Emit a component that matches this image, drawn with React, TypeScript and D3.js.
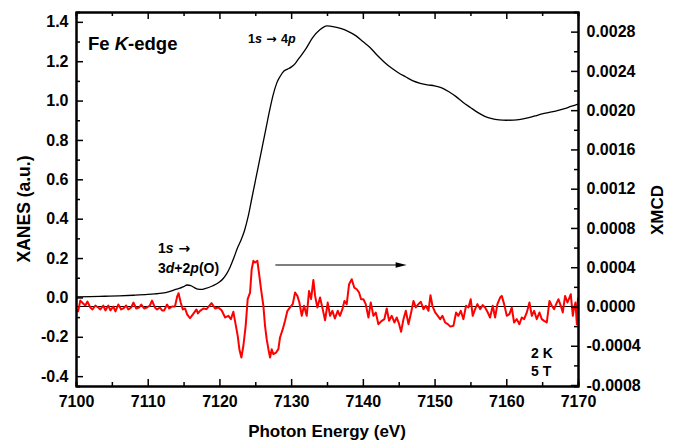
import React, { useEffect, useRef } from 'react';
import * as d3 from 'd3';

const xTicks = [7100, 7110, 7120, 7130, 7140, 7150, 7160, 7170];
const xanesTicks = [-0.4, -0.2, 0, 0.2, 0.4, 0.6, 0.8, 1.0, 1.2, 1.4];
const xmcdTicks = [-0.0008, -0.0004, 0, 0.0004, 0.0008, 0.0012, 0.0016, 0.002, 0.0024, 0.0028];

// XANES (a.u.) vs photon energy (eV)
const xanesEnergy = [
  7100, 7102, 7104, 7106, 7108, 7110, 7111, 7112, 7113, 7114, 7114.5, 7115, 7115.5, 7116, 7116.5,
  7117, 7117.5, 7118, 7119, 7120, 7120.5, 7121, 7121.5, 7122, 7122.5, 7123, 7123.5, 7124, 7124.5,
  7125, 7125.5, 7126, 7126.5, 7127, 7127.5, 7128, 7128.5, 7129, 7129.5, 7130, 7130.5, 7131, 7132,
  7133, 7134, 7135, 7136, 7137, 7138, 7139, 7140, 7141, 7142, 7143, 7144, 7145, 7146, 7147, 7148,
  7149, 7150, 7151, 7152, 7153, 7154, 7155, 7156, 7157, 7158, 7159, 7160, 7161, 7162, 7163, 7164,
  7165, 7166, 7167, 7168, 7169, 7170,
];
const xanesValue = [
  0.003, 0.004, 0.006, 0.008, 0.011, 0.015, 0.018, 0.022, 0.03, 0.042, 0.047, 0.055, 0.063, 0.06, 0.05,
  0.042, 0.041, 0.045, 0.058, 0.078, 0.095, 0.12, 0.155, 0.2, 0.25, 0.29, 0.34, 0.41, 0.5,
  0.59, 0.68, 0.77, 0.86, 0.95, 1.03, 1.09, 1.125, 1.15, 1.16, 1.17, 1.185, 1.21, 1.26,
  1.32, 1.36, 1.38, 1.375, 1.365, 1.35, 1.33, 1.3, 1.27, 1.23, 1.195, 1.165, 1.14, 1.12, 1.1, 1.088,
  1.08, 1.075, 1.065, 1.045, 1.02, 0.99, 0.965, 0.94, 0.92, 0.908, 0.902, 0.9, 0.901, 0.905, 0.912, 0.922,
  0.932, 0.94, 0.948, 0.958, 0.97, 0.982,
];

// XMCD, [energy (eV), value in units of 1e-4]
const xmcd: [number, number][] = [
  [7100.0, -0.3], [7100.3, -0.5], [7100.6, 0.6], [7101.0, 0.3], [7101.3, 0.1], [7101.6, 0.5],
  [7102.0, -0.1], [7102.3, -0.3], [7102.7, 0.1], [7103.1, -0.1], [7103.4, -0.3], [7103.8, 0.1],
  [7104.1, -0.4], [7104.5, 0.1], [7104.8, -0.4], [7105.2, 0.0], [7105.5, -0.5], [7105.9, 0.2],
  [7106.3, -0.3], [7106.6, -0.2], [7107.0, 0.1], [7107.3, -0.3], [7107.7, -0.1], [7108.0, 0.4],
  [7108.4, -0.2], [7108.8, -0.1], [7109.1, 0.2], [7109.5, -0.2], [7109.9, -0.1], [7110.3, 0.1],
  [7110.6, 0.6], [7111.0, -0.1], [7111.3, -0.3], [7111.7, -0.1], [7112.0, -0.4], [7112.3, -0.4],
  [7112.7, 0.2], [7113.0, -0.2], [7113.4, 0.0], [7113.8, 0.0], [7114.1, 1.0], [7114.3, 1.35],
  [7114.6, 0.4], [7114.9, -0.3], [7115.2, -0.2], [7115.5, -0.8], [7115.9, -1.2], [7116.2, -0.9],
  [7116.5, -0.6], [7116.8, -0.3], [7117.0, -0.7], [7117.3, -0.45], [7117.76, -0.2], [7118.2, -0.27],
  [7118.9, 0.34], [7119.4, -0.2], [7119.85, -0.1], [7120.3, -0.38], [7120.8, -1.12], [7121.25, -0.95],
  [7121.6, -1.29], [7121.94, -0.54], [7122.17, -1.46], [7122.55, -2.99], [7122.78, -4.35], [7123.06, -5.2],
  [7123.34, -4.0], [7123.66, -1.97], [7123.94, 0.75], [7124.27, 1.42], [7124.5, 3.8], [7124.73, 4.65],
  [7124.96, 4.48], [7125.29, 4.65], [7125.57, 3.12], [7125.8, 1.76], [7126.13, 0.07], [7126.36, -1.97],
  [7126.59, -3.33], [7126.83, -4.35], [7127.06, -5.2], [7127.29, -4.35], [7127.52, -4.86], [7127.9, -4.69],
  [7128.22, -4.35], [7128.45, -3.16], [7128.83, -2.31], [7129.15, -1.46], [7129.48, -0.44], [7129.85, -0.1],
  [7130.22, 0.24], [7130.55, 1.42], [7130.87, 1.08], [7131.15, 0.41], [7131.48, -0.95], [7131.8, 0.07],
  [7132.17, -0.95], [7132.5, 1.59], [7132.78, 0.75], [7133.1, 2.71], [7133.34, 1.08], [7133.66, -0.1],
  [7134.03, 0.92], [7134.4, -0.27], [7134.73, -1.4], [7135.1, 0.4], [7135.43, -0.95], [7135.75, -0.44],
  [7136.1, -1.22], [7136.5, -0.44], [7136.8, -0.95], [7137.15, -0.27], [7137.43, 0.57], [7137.75, 0.24],
  [7138.08, 2.27], [7138.45, 2.78], [7138.8, 1.93], [7139.15, 1.76], [7139.47, 1.42], [7139.75, 0.74],
  [7140.08, 0.74], [7140.4, 0.24], [7140.78, -1.12], [7141.1, 0.41], [7141.47, -0.95], [7141.8, -0.61],
  [7142.17, -1.8], [7142.64, -1.46], [7143.0, -1.29], [7143.33, -0.2], [7143.66, -1.46], [7144.03, -0.95],
  [7144.4, -1.63], [7144.73, -1.12], [7145.06, -1.8], [7145.33, -2.58], [7145.66, -1.29], [7145.99, -0.44],
  [7146.36, -1.8], [7146.73, -0.61], [7147.06, 0.57], [7147.38, -0.1], [7147.75, 0.24], [7148.08, 0.48],
  [7148.45, -0.27], [7148.78, 0.07], [7149.15, -0.44], [7149.43, 1.15], [7149.7, 0.07], [7150.08, -0.61],
  [7150.45, -0.95], [7150.78, -1.29], [7151.1, -0.95], [7151.47, -1.63], [7151.85, -1.8], [7152.2, -2.05],
  [7152.63, -1.97], [7153.0, -0.61], [7153.32, -0.95], [7153.65, -0.44], [7154.02, -1.29], [7154.39, 0.07],
  [7154.72, -0.1], [7155.04, 0.74], [7155.32, -0.95], [7155.65, -0.27], [7155.97, 0.24], [7156.35, -0.27],
  [7156.72, 0.14], [7157.04, -0.1], [7157.37, -0.54], [7157.74, -1.12], [7158.11, 0.07], [7158.44, -1.12],
  [7158.76, 0.24], [7159.14, 0.91], [7159.37, 1.08], [7159.7, 0.24], [7160.07, -0.95], [7160.44, -0.78],
  [7160.76, -0.1], [7161.09, -1.63], [7161.46, -1.29], [7161.83, -1.8], [7162.16, -1.12], [7162.49, -1.29],
  [7162.86, -0.61], [7163.23, 0.41], [7163.56, -0.95], [7163.88, -0.44], [7164.25, -1.29], [7164.63, -0.61],
  [7164.95, -1.29], [7165.28, -1.46], [7165.65, -1.63], [7166.02, 0.57], [7166.35, 0.07], [7166.67, -0.27],
  [7166.95, 0.24], [7167.28, 0.74], [7167.6, 0.07], [7167.88, -0.61], [7168.2, 1.08], [7168.53, 0.41],
  [7168.81, 0.91], [7168.99, 1.25], [7169.28, -0.95], [7169.46, -0.1], [7169.65, 0.41], [7169.84, -1.8],
  [7170.0, 0.91],
];

const FONT = '"Liberation Sans", Arial, Helvetica, sans-serif';
const ARROW_FONT = '"DejaVu Sans", sans-serif';

export default function App() {
  const svgRef = useRef<SVGSVGElement>(null);

  useEffect(() => {
    const width = 676;
    const height = 442;
    const margin = { top: 12, right: 98, bottom: 56, left: 76 };
    const innerW = width - margin.left - margin.right;
    const innerH = height - margin.top - margin.bottom;

    const svg = d3.select(svgRef.current);
    svg.selectAll('*').remove();
    svg.attr('font-family', FONT).attr('font-weight', 'bold');

    const x = d3.scaleLinear().domain([7100, 7170]).range([0, innerW]);
    const yL = d3.scaleLinear().domain([-0.45, 1.45]).range([innerH, 0]);
    const yR = d3.scaleLinear().domain([-0.00081, 0.003]).range([innerH, 0]);

    const g = svg.append('g').attr('transform', `translate(${margin.left},${margin.top})`);

    g.append('clipPath')
      .attr('id', 'plot-clip')
      .append('rect')
      .attr('width', innerW)
      .attr('height', innerH);

    const plot = g.append('g').attr('clip-path', 'url(#plot-clip)');

    // zero line of the XMCD axis
    plot
      .append('line')
      .attr('x1', 0)
      .attr('x2', innerW)
      .attr('y1', yR(0))
      .attr('y2', yR(0))
      .attr('stroke', '#000')
      .attr('stroke-width', 1.2);

    const xmcdLine = d3
      .line<[number, number]>()
      .x((d) => x(d[0]))
      .y((d) => yR(d[1] * 1e-4));

    plot
      .append('path')
      .datum(xmcd)
      .attr('fill', 'none')
      .attr('stroke', '#ff0000')
      .attr('stroke-width', 2)
      .attr('stroke-linejoin', 'round')
      .attr('d', xmcdLine);

    const xanesLine = d3
      .line<number>()
      .x((d, i) => x(xanesEnergy[i]))
      .y((d) => yL(d))
      .curve(d3.curveMonotoneX);

    plot
      .append('path')
      .datum(xanesValue)
      .attr('fill', 'none')
      .attr('stroke', '#000')
      .attr('stroke-width', 1.3)
      .attr('d', xanesLine);

    // axes, ticks pointing inward
    const styleAxis = (sel: any) => {
      sel.select('.domain').attr('stroke-width', 2);
      sel.selectAll('.tick line').attr('stroke-width', 1.5);
      sel.selectAll('text').attr('font-size', 16).attr('font-family', FONT).attr('font-weight', 'bold').attr('fill', '#000');
      sel.attr('font-family', null).attr('font-size', null);
    };

    const minorX = d3.range(7105, 7170, 10);
    const minorL = d3.range(-0.3, 1.45, 0.2);
    const minorR = d3.range(-0.0006, 0.003, 0.0004);

    const bottom = g.append('g').attr('transform', `translate(0,${innerH})`);
    bottom.append('g').call(
      d3.axisBottom(x).tickValues(minorX).tickSize(-4).tickFormat(() => '')
    ).call(styleAxis);
    bottom.append('g').call(
      d3.axisBottom(x).tickValues(xTicks).tickSizeInner(-7).tickSizeOuter(0).tickPadding(9.5).tickFormat((d) => String(d))
    ).call(styleAxis);

    const top = g.append('g');
    top.append('g').call(
      d3.axisTop(x).tickValues(minorX).tickSize(-4).tickFormat(() => '')
    ).call(styleAxis);
    top.append('g').call(
      d3.axisTop(x).tickValues(xTicks).tickSizeInner(-7).tickSizeOuter(0).tickFormat(() => '')
    ).call(styleAxis);

    const left = g.append('g');
    left.append('g').call(
      d3.axisLeft(yL).tickValues(minorL).tickSize(-4).tickFormat(() => '')
    ).call(styleAxis);
    left.append('g').call(
      d3.axisLeft(yL).tickValues(xanesTicks).tickSizeInner(-7).tickSizeOuter(0).tickPadding(7.5).tickFormat((d) => (+d).toFixed(1))
    ).call(styleAxis);

    const right = g.append('g').attr('transform', `translate(${innerW},0)`);
    right.append('g').call(
      d3.axisRight(yR).tickValues(minorR).tickSize(-4).tickFormat(() => '')
    ).call(styleAxis);
    right.append('g').call(
      d3.axisRight(yR).tickValues(xmcdTicks).tickSizeInner(-7).tickSizeOuter(0).tickPadding(8.5).tickFormat((d) => (+d).toFixed(4))
    ).call(styleAxis);

    // axis titles
    svg.append('text')
      .attr('x', margin.left + innerW / 2)
      .attr('y', 437)
      .attr('text-anchor', 'middle')
      .attr('font-size', 17)
      .text('Photon Energy (eV)');

    svg.append('text')
      .attr('transform', `translate(30,209) rotate(-90)`)
      .attr('text-anchor', 'middle')
      .attr('font-size', 17.5)
      .text('XANES (a.u.)');

    svg.append('text')
      .attr('transform', `translate(663,210) rotate(-90)`)
      .attr('text-anchor', 'middle')
      .attr('font-size', 17)
      .text('XMCD');

    // annotations
    const edge = svg.append('text').attr('x', 88).attr('y', 50).attr('font-size', 18.5);
    edge.append('tspan').text('Fe ');
    edge.append('tspan').attr('font-style', 'italic').text('K');
    edge.append('tspan').text('-edge');

    const mainT = svg.append('text').attr('x', 248).attr('y', 43).attr('font-size', 12.5);
    mainT.append('tspan').text('1');
    mainT.append('tspan').attr('font-style', 'italic').text('s');
    mainT.append('tspan').attr('font-family', ARROW_FONT).text(' \u2192 ');
    mainT.append('tspan').text('4');
    mainT.append('tspan').attr('font-style', 'italic').text('p');

    const pre1 = svg.append('text').attr('x', 158).attr('y', 253).attr('font-size', 14);
    pre1.append('tspan').text('1');
    pre1.append('tspan').attr('font-style', 'italic').text('s');
    pre1.append('tspan').attr('font-family', ARROW_FONT).text(' \u2192');

    const pre2 = svg.append('text').attr('x', 158).attr('y', 273).attr('font-size', 14);
    pre2.append('tspan').text('3');
    pre2.append('tspan').attr('font-style', 'italic').text('d');
    pre2.append('tspan').text('+2');
    pre2.append('tspan').attr('font-style', 'italic').text('p');
    pre2.append('tspan').text('(O)');

    svg.append('text').attr('x', 531).attr('y', 357.5).attr('font-size', 14).text('2 K');
    svg.append('text').attr('x', 531).attr('y', 375.5).attr('font-size', 14).text('5 T');

    // arrow over the XMCD region
    const ay = 265;
    const ax0 = margin.left + x(7127.8);
    const ax1 = margin.left + x(7146.1);
    svg.append('line')
      .attr('x1', ax0).attr('x2', ax1 - 9)
      .attr('y1', ay).attr('y2', ay)
      .attr('stroke', '#000')
      .attr('stroke-width', 1.2);
    svg.append('path')
      .attr('d', `M${ax1},${ay} L${ax1 - 11},${ay - 2.8} L${ax1 - 11},${ay + 2.8} Z`)
      .attr('fill', '#000');
  }, []);

  return (
    <svg
      ref={svgRef}
      width={676}
      height={442}
      style={{ position: 'absolute', left: 0, top: 0, background: '#fff' }}
    />
  );
}
